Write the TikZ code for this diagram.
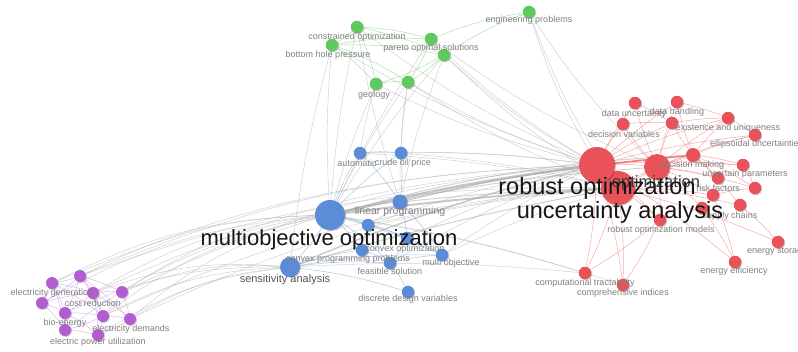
\documentclass[tikz,border=0pt]{standalone}
\usepackage{fontspec}
\setmainfont{Liberation Sans}
\usetikzlibrary{shadows,backgrounds}
\definecolor{cg}{RGB}{95,200,95}
\definecolor{cb}{RGB}{92,140,215}
\definecolor{cp}{RGB}{178,92,210}
\definecolor{cr}{RGB}{232,82,88}
\definecolor{egc}{RGB}{150,220,150}
\definecolor{ebc}{RGB}{150,185,230}
\definecolor{epc}{RGB}{210,160,232}
\definecolor{erc}{RGB}{244,150,152}
\definecolor{exc}{RGB}{175,175,175}
\definecolor{labc}{RGB}{128,128,128}
\definecolor{bigc}{RGB}{22,22,22}
\begin{document}
\begin{tikzpicture}[x=1pt,y=-1pt,
  kw/.style={circle,inner sep=0pt,minimum size=#1,draw=none,
    drop shadow={shadow xshift=0.9pt,shadow yshift=-0.9pt,opacity=0.22,fill=black}},
  kw/.default=12.5pt,
  gn/.style={kw=#1,fill=cg},gn/.default=12.5pt,
  bn/.style={kw=#1,fill=cb},bn/.default=12.5pt,
  pn/.style={kw=#1,fill=cp},pn/.default=12pt,
  rn/.style={kw=#1,fill=cr},rn/.default=12.5pt,
  lab/.style={inner sep=0pt,text=labc,font=\fontsize{9}{9}\selectfont},
  big/.style={inner sep=0pt,text=bigc,font=\fontsize{#1}{#1}\selectfont},
  eg/.style={draw=egc,line width=0.5pt,opacity=0.8},
  eb/.style={draw=ebc,line width=0.5pt,opacity=0.8},
  ep/.style={draw=epc,line width=0.45pt,opacity=0.8},
  er/.style={draw=erc,line width=0.5pt,opacity=0.8},
  ex/.style={draw=exc,line width=0.45pt,opacity=0.6}]
\useasboundingbox (0,0) rectangle (798,351);
\clip (0,0) rectangle (798,351);
% ---------- green nodes
\node[gn] (g1) at (529,12) {};
\node[gn] (g2) at (357,27) {};
\node[gn] (g3) at (332,45) {};
\node[gn] (g4) at (431,39) {};
\node[gn] (g5) at (444,55) {};
\node[gn] (g6) at (376,84) {};
\node[gn] (g7) at (408,82) {};
% ---------- blue nodes
\node[bn=30pt] (b1) at (330,215) {};
\node[bn] (b2) at (360,153) {};
\node[bn] (b3) at (401,153) {};
\node[bn=15pt] (b4) at (400,202) {};
\node[bn] (b5) at (368,225) {};
\node[bn] (b6) at (407,238) {};
\node[bn] (b7) at (362,250) {};
\node[bn] (b8) at (390,263) {};
\node[bn] (b9) at (442,255) {};
\node[bn=20pt] (b10) at (290,267) {};
\node[bn] (b11) at (408,292) {};
% ---------- purple nodes
\node[pn] (p1) at (80,276) {};
\node[pn] (p2) at (52,283) {};
\node[pn] (p3) at (93,293) {};
\node[pn] (p4) at (122,292) {};
\node[pn] (p5) at (42,303) {};
\node[pn] (p6) at (65,313) {};
\node[pn] (p7) at (103,316) {};
\node[pn] (p8) at (130,319) {};
\node[pn] (p9) at (65,330) {};
\node[pn] (p10) at (98,335) {};
% ---------- red nodes
\node[rn=34pt] (r2) at (618,188) {};
\node[rn=36pt] (r1) at (597,165) {};
\node[rn=26pt] (r3) at (657,167) {};
\node[rn] (r4) at (635,103) {};
\node[rn] (r5) at (677,102) {};
\node[rn] (r6) at (623,124) {};
\node[rn] (r7) at (672,123) {};
\node[rn] (r8) at (728,118) {};
\node[rn] (r9) at (755,135) {};
\node[rn=14pt] (r10) at (693,155) {};
\node[rn] (r11) at (743,165) {};
\node[rn] (r12) at (718,178) {};
\node[rn] (r13) at (755,188) {};
\node[rn] (r14) at (713,195) {};
\node[rn] (r15) at (740,205) {};
\node[rn] (r16) at (702,208) {};
\node[rn] (r17) at (660,220) {};
\node[rn] (r18) at (778,242) {};
\node[rn] (r19) at (735,262) {};
\node[rn] (r20) at (585,273) {};
\node[rn] (r21) at (623,285) {};
% ---------- edges
\begin{pgfonlayer}{background}
\fill[white] (0,0) rectangle (798,351);
\foreach \a/\b in {g2/g4,g2/g5,g3/g4,g3/g6,g3/g7,g2/g6,g4/g7,g5/g6,g5/g7,g6/g7,g4/g1,g5/g1,g2/g3,g3/g5}
  \draw[eg] (\a) to[bend left=6] (\b);
\foreach \a/\b in {b1/b4,b1/b5,b1/b10,b1/b2,b1/b3,b1/b6,b1/b7,b1/b8,b1/b9,b2/b3,b2/b4,b3/b4,b4/b5,b4/b9,b5/b6,b6/b8,b7/b8,b8/b9,b10/b7,b10/b8,b10/b9,b10/b11,b8/b11,b6/b9,b4/b6}
  \draw[eb] (\a) to[bend left=5] (\b);
\foreach \a/\b in {p1/p2,p1/p3,p1/p4,p1/p5,p1/p6,p1/p7,p1/p8,p2/p3,p2/p5,p2/p6,p2/p9,p3/p4,p3/p6,p3/p7,p3/p8,p3/p10,p4/p7,p4/p8,p5/p6,p5/p9,p6/p7,p6/p9,p6/p10,p7/p8,p7/p9,p7/p10,p8/p10,p9/p10,p2/p7,p5/p3}
  \draw[ep] (\a) to[bend left=5] (\b);
\foreach \a/\b in {r1/r3,r1/r4,r1/r6,r1/r5,r1/r7,r1/r17,r1/r20,r1/r21,r2/r3,r2/r10,r2/r17,r2/r21,r2/r20,r2/r14,r2/r15,r3/r10,r3/r4,r3/r5,r3/r6,r3/r7,r3/r8,r3/r9,r3/r11,r3/r12,r3/r13,r3/r14,r3/r16,r3/r17,r10/r8,r10/r9,r10/r11,r10/r7,r10/r5,r10/r12,r10/r13,r10/r15,r4/r7,r5/r8,r6/r7,r7/r8,r11/r13,r12/r14,r14/r19,r15/r18,r16/r19,r17/r20,r17/r21,r14/r13,r8/r9,r1/r8,r1/r9,r1/r11,r1/r19,r2/r18}
  \draw[er] (\a) to[bend left=4] (\b);
\draw[draw=erc!80!red,line width=1.6pt] (r1) -- (r10);
% grey links between clusters
\foreach \a/\b in {g3/b1,g2/b1,g6/b1,g7/b1,g5/b1,g4/b1,g6/b2,g7/b3,g2/b4,g5/b4,g3/b10,g7/b4}
  \draw[ex] (\a) to[bend right=4] (\b);
\foreach \a/\b in {g5/r1,g4/r1,g7/r1,g6/r1,g2/r1,g3/r1,g5/r2,g7/r2,g1/r1,g1/r2,g1/r3,g4/r3}
  \draw[ex] (\a) to[bend right=6] (\b);
\foreach \a/\b in {b2/r1,b3/r1,b9/r1,b6/r1,b8/r1,b5/r1,b1/r20,b1/r21,b10/r20,b2/r2,b3/r2,b9/r2,b5/r2}
  \draw[ex] (\a) to[bend left=4] (\b);
\foreach \a/\b in {p1/b1,p2/b1,p3/b1,p4/b1,p8/b1,p7/b1,p5/b1,p9/b1,p6/b10,p8/b10,p4/b10,p7/b10,p10/b10,p3/b10}
  \draw[ex] (\a) to[bend left=12] (\b);
\foreach \a/\b in {p1/r1,p4/r1,p3/r1,p2/r1,p8/r2,p7/r2,p1/r2}
  \draw[ex] (\a) to[bend left=10] (\b);
\draw[ex,line width=2.6pt,draw=gray!75] (b1) to[bend left=3] (r1);
\draw[ex,line width=2pt,draw=gray!70] (b1) to[bend left=2] (r2);
\draw[ex,line width=1.4pt,draw=gray!70] (b10) to[bend left=4] (r1);
\draw[ex,line width=1.2pt,draw=gray!70] (b4) to[bend left=3] (r1);
\draw[ex,line width=1pt] (b10) to[bend left=3] (r2);
\draw[ex,line width=0.9pt] (b4) to[bend left=2] (r2);
\draw[ex,line width=0.9pt] (b1) to[bend left=4] (r3);
\draw[ex,line width=0.9pt] (b1) to[bend left=6] (r10);
\end{pgfonlayer}
% ---------- labels
\node[lab] (lg1) at (529,20) {engineering problems};
\node[lab] (lg2) at (357,37) {constrained optimization};
\node[lab] (lg3) at (328,55) {bottom hole pressure};
\node[lab] (lg4) at (431,48) {pareto optimal solutions};
\node[lab] (lg6) at (374,95) {geology};
\node[lab] (lb2) at (357,163) {automatic};
\node[lab] (lb3) at (403,163) {crude oil price};
\node[lab] (lb6) at (405,249) {convex optimization};
\node[lab] (lb7) at (348,259) {convex programming problems};
\node[lab] (lb8) at (390,271) {feasible solution};
\node[lab] (lb9) at (451,263) {multi objective};
\node[lab] (lb11) at (408,299) {discrete design variables};
\node[lab,font=\fontsize{10.5}{10.5}\selectfont] (lb4) at (400,212) {linear programming};
\node[lab,text={rgb,255:red,85;green,85;blue,85},font=\fontsize{11}{11}\selectfont] (lb10) at (285,280) {sensitivity analysis};
\node[lab] (lp2) at (52,293) {electricity generation};
\node[lab] (lp3) at (93,303) {cost reduction};
\node[lab] (lp6) at (65,323) {bio-energy};
\node[lab] (lp8) at (131,329) {electricity demands};
\node[lab] (lp10) at (98,342) {electric power utilization};
\node[lab] (lr4) at (634,114) {data uncertainty};
\node[lab] (lr5) at (677,112) {data handling};
\node[lab] (lr6) at (624,134) {decision variables};
\node[lab] (lr8) at (728,128) {existence and uniqueness};
\node[lab,anchor=west] (lr9) at (710,144) {ellipsoidal uncertainties};
\node[lab] (lr10) at (692,165) {decision making};
\node[lab] (lr11) at (745,174) {uncertain parameters};
\node[lab] (lr12) at (718,188) {risk factors};
\node[lab] (lr15) at (730,216) {supply chains};
\node[lab] (lr17) at (661,230) {robust optimization models};
\node[lab,anchor=west] (lr18) at (747,252) {energy storage};
\node[lab] (lr19) at (734,271) {energy efficiency};
\node[lab] (lr20) at (585,283) {computational tractability};
\node[lab] (lr21) at (623,293) {comprehensive indices};
\node[big=16.5,text={rgb,255:red,60;green,60;blue,60}] (lr3) at (656,183) {optimization};
\node[big=22] (lb1) at (329,240) {multiobjective optimization};
\node[big=23.5] (lr1) at (597,188) {robust optimization};
\node[big=23.5] (lr2) at (620,212) {uncertainty analysis};
\end{tikzpicture}
\end{document}
